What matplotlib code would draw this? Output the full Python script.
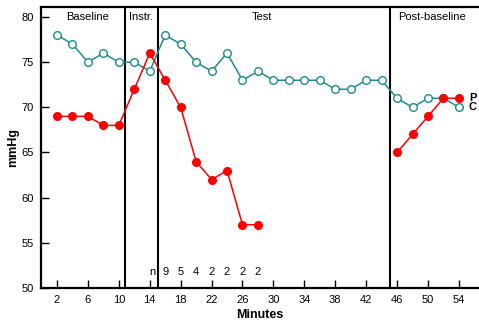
import numpy as np
import matplotlib.pyplot as plt

plt.rcParams['font.family'] = ['Liberation Sans', 'DejaVu Sans']

minutes = np.arange(2, 56, 2)
c_vals = [78, 77, 75, 76, 75, 75, 74, 78, 77, 75, 74, 76, 73, 74, 73, 73, 73, 73,
          72, 72, 73, 73, 71, 70, 71, 71, 70]
p_vals = [69, 69, 69, 68, 68, 72, 76, 73, 70, 64, 62, 63, 57, 57,
          np.nan, np.nan, np.nan, np.nan, np.nan, np.nan, np.nan, np.nan,
          65, 67, 69, 71, 71]

phase_lines = [10.85, 15.05, 45.1]
phase_names = ['Baseline', 'Instr.', 'Test', 'Post-baseline']
phase_pos = [6, 12.9, 28.5, 50.5]

n_x = [14.4, 16, 18, 20, 22, 24, 26, 28]
n_labels = ['n', '9', '5', '4', '2', '2', '2', '2']

xticks = list(range(2, 55, 4))
yticks = [50, 55, 60, 65, 70, 75, 80]

teal = '#1e8c8c'
red = '#ff0000'

fig = plt.figure(figsize=(4.79, 3.22), dpi=100)
ax = fig.add_axes([0.0856, 0.1056, 0.9144, 0.8725])

ax.plot(minutes, c_vals, color=teal, lw=1.1, marker='o', ms=5.5,
        mfc='white', mec=teal, mew=1.0, zorder=3)
ax.plot(minutes, p_vals, color=red, lw=1.1, marker='o', ms=5.5,
        mfc=red, mec=red, zorder=4)

for xv in phase_lines:
    ax.axvline(xv, color='black', lw=1.5, zorder=2)

for name, xp in zip(phase_names, phase_pos):
    ax.text(xp, 80, name, ha='center', va='center', fontsize=8)

for xp, lab in zip(n_x, n_labels):
    ax.text(xp, 51.8, lab, ha='center', va='center', fontsize=8)

ax.text(55.3, 71, 'P', ha='left', va='center', fontsize=8, fontweight='bold')
ax.text(55.3, 70, 'C', ha='left', va='center', fontsize=8, fontweight='bold')

ax.set_xlim(-0.07, 56.6)
ax.set_ylim(50, 81.1)
ax.set_xticks(xticks)
ax.set_yticks(yticks)
ax.tick_params(direction='in', length=6, width=1, labelsize=8, pad=5)
for s in ['left', 'bottom', 'top']:
    ax.spines[s].set_linewidth(1.6)
ax.spines['right'].set_visible(False)

ax.set_xlabel('Minutes', fontsize=9, fontweight='bold', labelpad=3)
ax.set_ylabel('mmHg', fontsize=9, fontweight='bold', labelpad=2)

fig.savefig('out.png', dpi=100)
